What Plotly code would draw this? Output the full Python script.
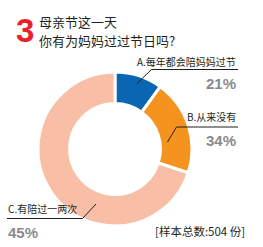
import plotly.graph_objects as go

W, H = 263, 247

# Data
categories = ["A.每年都会陪妈妈过节", "B.从来没有", "C.有陪过一两次"]
percent_labels = ["21%", "34%", "45%"]
arc_shares = [10, 20, 70]          # arc sizes as drawn in the reference
colors = ["#0a66b2", "#f4941f", "#f9bfa6"]
title_lines = ["母亲节这一天", "你有为妈妈过过节日吗?"]
sample_note = "[样本总数:504 份]"


def px(x):
    return x / W


def py(y):
    return 1 - y / H


cx, cy, R = 115, 149, 77

fig = go.Figure(go.Pie(
    values=arc_shares,
    labels=categories,
    marker=dict(colors=colors, line=dict(color="white", width=3)),
    hole=0.59,
    sort=False,
    direction="clockwise",
    rotation=0,
    textinfo="none",
    hoverinfo="label",
    domain=dict(x=[px(cx - R), px(cx + R)], y=[py(cy + R), py(cy - R)]),
    showlegend=False,
))

CJK = "Noto Sans CJK SC, Liberation Sans, sans-serif"
NUM = "Liberation Sans, Arial, sans-serif"

ann = []
# big "3"
ann.append(dict(x=px(14), y=py(30), text="<b>3</b>", showarrow=False, xanchor="left", yanchor="middle",
                font=dict(family=NUM, size=33, color="#e8212b")))
for ty, line in zip([21.5, 40.5], title_lines):
    ann.append(dict(x=px(37), y=py(ty), text=line, showarrow=False,
                    xanchor="left", yanchor="middle", align="left",
                    font=dict(family=CJK, size=13, color="#231f20")))

# labels
label_pos = [
    (238, 61.5, "right"),
    (238, 117, "right"),
    (6, 208.5, "left"),
]
pct_pos = [
    (238, 83.5, "right"),
    (238, 140, "right"),
    (6, 232, "left"),
]
for i in range(3):
    lx, ly, la = label_pos[i]
    ann.append(dict(x=px(lx), y=py(ly), text=categories[i], showarrow=False, xanchor=la, yanchor="middle",
                    font=dict(family=CJK, size=10, color="#231f20")))
    qx, qy, qa = pct_pos[i]
    ann.append(dict(x=px(qx), y=py(qy), text="<b>" + percent_labels[i] + "</b>", showarrow=False,
                    xanchor=qa, yanchor="middle", font=dict(family=NUM, size=15, color="#8a8a8c")))

ann.append(dict(x=px(247), y=py(231), text=sample_note, showarrow=False, xanchor="right", yanchor="middle",
                font=dict(family=CJK, size=11.5, color="#231f20")))

# leader lines (decoration)
leaders = [
    [(238, 69.5), (151.5, 69.5), (137, 83.5)],
    [(238, 127), (176.5, 127), (167.5, 142)],
    [(7, 218.5), (82.5, 218.5), (96, 204)],
]
shapes = []
for pts in leaders:
    path = "M {} {}".format(px(pts[0][0]), py(pts[0][1]))
    for (x, y) in pts[1:]:
        path += " L {} {}".format(px(x), py(y))
    shapes.append(dict(type="path", path=path, xref="paper", yref="paper",
                       line=dict(color="#231f20", width=1)))

fig.update_layout(
    width=W, height=H,
    margin=dict(l=0, r=0, t=0, b=0),
    paper_bgcolor="white", plot_bgcolor="white",
    annotations=ann, shapes=shapes,
)

fig.write_html("out.html", config={"displayModeBar": False})
